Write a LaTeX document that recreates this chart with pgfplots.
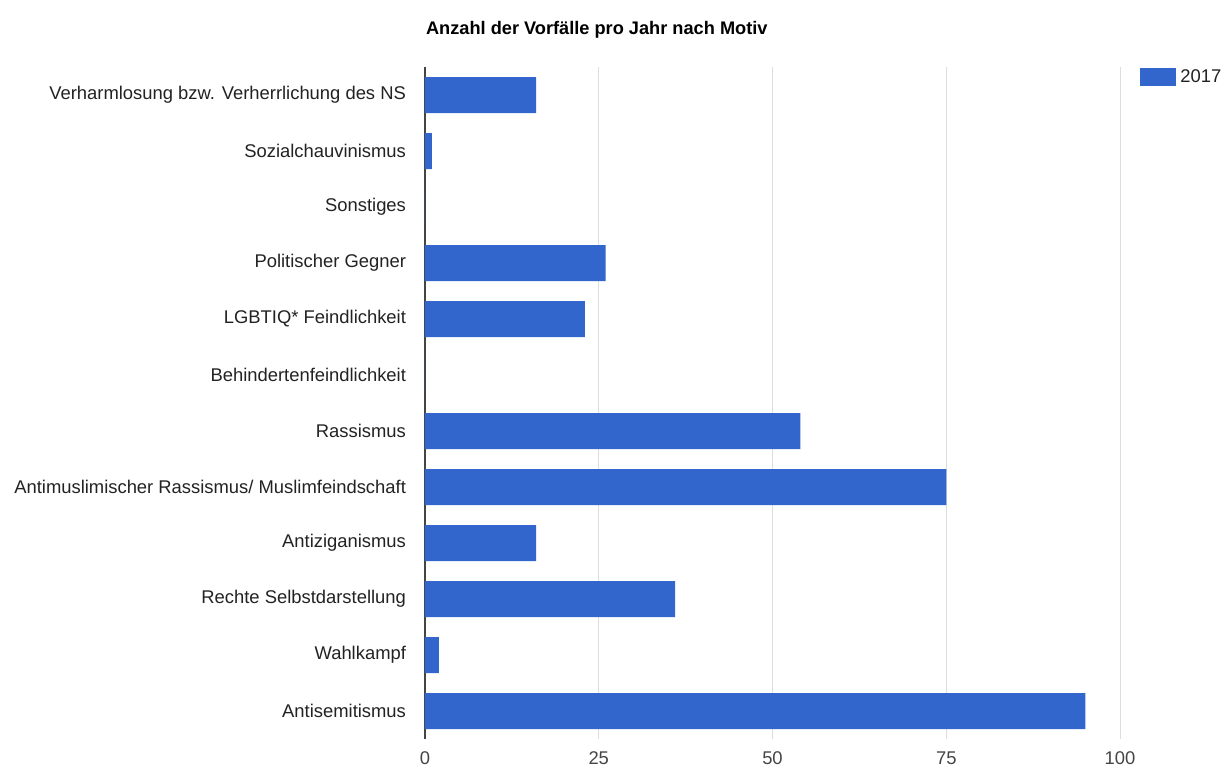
\documentclass[border=0pt]{standalone}
\usepackage{pgfplots}
\pgfplotsset{compat=1.18}
\usepackage{fontspec}
\setmainfont{Liberation Sans}
\definecolor{gblue}{HTML}{3366CC}
\definecolor{ggrid}{HTML}{DDDDDD}
\definecolor{gtext}{HTML}{222222}
\definecolor{gtick}{HTML}{444444}

\begin{document}
\begin{tikzpicture}
\useasboundingbox (0,0) rectangle (613pt,383.5pt);
\begin{axis}[
  scale only axis, width=347.5pt, height=336pt,
  at={(212.5pt,14pt)}, anchor=south west,
  xbar, bar width=18pt,
  xmin=0, xmax=100, ymin=-0.5, ymax=11.5,
  xtick={0,25,50,75,100},
  ytick={0,...,11},
  yticklabels={Antisemitismus, Wahlkampf, Rechte Selbstdarstellung, Antiziganismus,
    Antimuslimischer Rassismus/ Muslimfeindschaft, Rassismus, Behindertenfeindlichkeit,
    LGBTIQ* Feindlichkeit, Politischer Gegner, Sonstiges, Sozialchauvinismus,
    Verharmlosung bzw. Verherrlichung des NS},
  major tick length=0pt,
  axis lines*=left,
  x axis line style={draw=none},
  y axis line style={draw=gtick, line width=0.6pt},
  xmajorgrids, major x grid style={ggrid, line width=0.5pt},
  /pgf/number format/assume math mode=true,
  tick label style={font=\fontsize{9.2}{10}\selectfont},
  yticklabel style={text=gtext, xshift=-6pt},
  xticklabel style={text=gtick, yshift=-3pt},
  title={\textbf{Anzahl der Vorfälle pro Jahr nach Motiv}},
  title style={at={(0,1)}, anchor=west, xshift=-3pt, yshift=12.5pt, font=\fontsize{9.1}{10}\selectfont, text=black},
  legend style={at={(1,1)}, anchor=north west, xshift=9pt, yshift=2pt, draw=none, fill=none,
    font=\fontsize{9.2}{10}\selectfont, text=gtext, inner sep=1pt},
  legend image code/.code={\fill[gblue] (0pt,-4.5pt) rectangle (18pt,4.5pt);},
]
\addplot[fill=gblue, draw=none] coordinates {
  (95,0) (2,1) (36,2) (16,3) (75,4) (54,5) (0,6) (23,7) (26,8) (0,9) (1,10) (16,11)};
\legend{2017}
\end{axis}
\end{tikzpicture}
\end{document}
